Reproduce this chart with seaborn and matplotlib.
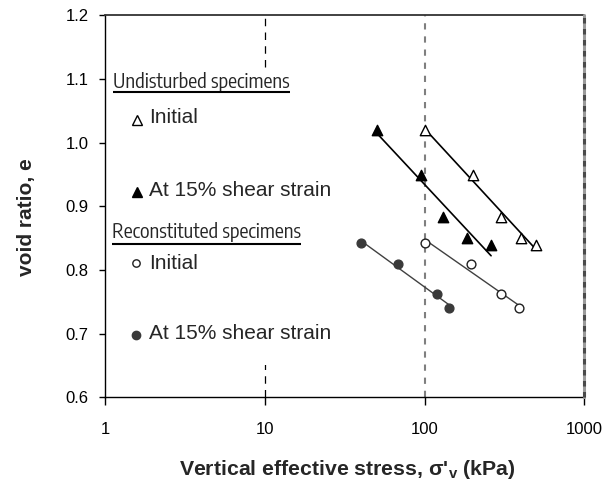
import matplotlib
matplotlib.use("Agg")
import matplotlib.pyplot as plt
import seaborn as sns
import numpy as np
from matplotlib.patches import Rectangle
from matplotlib import font_manager as fm
from matplotlib.textpath import TextPath

# ---- data ----
undist_init_x = [100, 200, 300, 400, 500]
undist_init_e = [1.02, 0.949, 0.884, 0.851, 0.839]
undist_shear_x = [50, 95, 130, 185, 260]
undist_shear_e = [1.02, 0.949, 0.884, 0.851, 0.839]
recon_init_x = [100, 195, 300, 390]
recon_init_e = [0.842, 0.809, 0.762, 0.740]
recon_shear_x = [40, 68, 120, 142]
recon_shear_e = [0.842, 0.809, 0.762, 0.740]

x_ticks = [1, 10, 100, 1000]
x_tick_labels = ["1", "10", "100", "1000"]
y_ticks = [0.6, 0.7, 0.8, 0.9, 1.0, 1.1, 1.2]
y_tick_labels = ["0.6", "0.7", "0.8", "0.9", "1.0", "1.1", "1.2"]

sns.set_style("white")
plt.rcParams["font.family"] = ["Liberation Sans", "DejaVu Sans"]
plt.rcParams["mathtext.fontset"] = "custom"
plt.rcParams["mathtext.rm"] = "Liberation Sans"
plt.rcParams["mathtext.bf"] = "Liberation Sans:bold"

# pick the narrow font whose natural width best matches the reference headings
TARGET_W = 189.0  # px for "Reconstituted specimens" at 15 pt
best = None
for f in fm.fontManager.ttflist:
    if f.style != "normal" or f.weight not in ("normal", "regular", 400):
        continue
    if not (("Condensed" in f.name) or ("Narrow" in f.name)
            or f.stretch not in ("normal", 500)):
        continue
    if not any(k in f.name for k in ("Sans", "Roboto", "Lato", "Inter")):
        continue
    if "Mono" in f.name or "CJK" in f.name:
        continue
    try:
        fp = fm.FontProperties(fname=f.fname, size=15)
        tp = TextPath((0, 0), "Reconstituted specimens", prop=fp)
        w = tp.get_extents().width * 100.0 / 72.0
    except Exception:
        continue
    if best is None or abs(w - TARGET_W) < abs(best[1] - TARGET_W):
        best = (f.fname, w)
if best is not None:
    narrow_fp = fm.FontProperties(fname=best[0])
else:
    narrow_fp = fm.FontProperties(family="Liberation Sans")

fig = plt.figure(figsize=(6.15, 4.83), dpi=100)
ax = fig.add_axes([0.1715, 0.1774, 0.7789, 0.7907])
ax.set_xscale("log")
ax.set_xlim(1, 1000)
ax.set_ylim(0.6, 1.2)

# vertical dashed reference lines
ax.axvline(10, color="black", lw=0.9, ls=(0, (6, 5)), zorder=0.5)
ax.axvline(100, color="#7f7f7f", lw=1.5, ls=(0, (3, 3.3)), zorder=0.5)
ax.axvline(1000, color="#9a9a9a", lw=2.2, zorder=2.6, clip_on=False)
ax.axvline(1000, color="#4a4a4a", lw=2.2, ls=(0, (1.8, 1.8)), zorder=2.7, clip_on=False)

# white box behind legend text
ax.add_patch(Rectangle((0.01, 0.085), 0.48, 0.777, transform=ax.transAxes,
                       facecolor="white", edgecolor="none", zorder=0.8))

# trend lines
sns.regplot(x=undist_init_x, y=undist_init_e, logx=True, ci=None, scatter=False,
            color="black", line_kws=dict(lw=1.2, zorder=2), ax=ax)
sns.regplot(x=undist_shear_x, y=undist_shear_e, logx=True, ci=None, scatter=False,
            color="black", line_kws=dict(lw=1.2, zorder=2), ax=ax)
sns.regplot(x=recon_init_x, y=recon_init_e, logx=True, ci=None, scatter=False,
            color="#404040", line_kws=dict(lw=1.0, zorder=2), ax=ax)
sns.regplot(x=recon_shear_x, y=recon_shear_e, logx=True, ci=None, scatter=False,
            color="#404040", line_kws=dict(lw=1.0, zorder=2), ax=ax)

# markers
sns.scatterplot(x=undist_init_x, y=undist_init_e, marker="^", s=56, color="white",
                edgecolor="black", linewidth=1.0, zorder=3, ax=ax)
sns.scatterplot(x=undist_shear_x, y=undist_shear_e, marker="^", s=56, color="black",
                edgecolor="black", linewidth=1.0, zorder=3, ax=ax)
sns.scatterplot(x=recon_init_x, y=recon_init_e, marker="o", s=40, color="white",
                edgecolor="#202020", linewidth=1.0, zorder=3, ax=ax)
sns.scatterplot(x=recon_shear_x, y=recon_shear_e, marker="o", s=40, color="#3a3a3a",
                edgecolor="#3a3a3a", linewidth=1.0, zorder=3, ax=ax)

# axes styling
ax.set_xticks(x_ticks)
ax.set_xticklabels(x_tick_labels)
ax.xaxis.set_minor_locator(matplotlib.ticker.NullLocator())
ax.set_yticks(y_ticks)
ax.set_yticklabels(y_tick_labels)
ax.tick_params(axis="x", direction="out", length=5.5, width=1, labelsize=12, pad=12.5,
               color="black", labelcolor="black", bottom=True)
ax.tick_params(axis="y", direction="out", length=4, width=1, labelsize=12, pad=8,
               color="black", labelcolor="black", left=True)
for side in ["left", "bottom"]:
    ax.spines[side].set_color("black")
    ax.spines[side].set_linewidth(1.0)
ax.spines["top"].set_color("#333333")
ax.spines["top"].set_linewidth(1.3)
ax.spines["right"].set_visible(False)

ax.set_xlabel(r"Vertical effective stress, σ'$_{\mathbf{v}}$ (kPa)", fontsize=15.3,
              fontweight="bold")
ax.set_ylabel("void ratio, e", fontsize=15, fontweight="bold")
ax.xaxis.set_label_coords(0.504, -0.16)
ax.yaxis.set_label_coords(-0.145, 0.472)


def axc(px, py):
    return ((px - 105.5) / 479.0, (397.3 - py) / 381.9)


# legend-like annotations
headers = [("Undisturbed specimens", 113, 88, 92), ("Reconstituted specimens", 112, 238, 244)]
items = [("Initial", 149, 123, "^", "white", "black", 137, 119.5, 6.5),
         ("At 15% shear strain", 149, 196, "^", "black", "black", 137, 191.5, 6.5),
         ("Initial", 149, 269, "o", "white", "#202020", 136, 263, 5.3),
         ("At 15% shear strain", 149, 339, "o", "#3a3a3a", "#3a3a3a", 136.5, 334.5, 6.0)]

head_texts = []
for label, px, py, uy in headers:
    x, y = axc(px, py)
    fp = narrow_fp.copy()
    fp.set_size(15)
    t = ax.text(x, y, label, transform=ax.transAxes, fontproperties=fp, va="baseline",
                ha="left", zorder=4)
    head_texts.append((t, uy))

# fine-tune heading size so "Reconstituted specimens" spans ~189 px, within limits
fig.canvas.draw()
w = head_texts[1][0].get_window_extent().width
size = float(np.clip(15 * TARGET_W / w, 13.0, 16.0))
for t, _ in head_texts:
    t.set_fontsize(size)

for label, px, py, mk, fc, ec, mx, my, ms in items:
    x, y = axc(px, py)
    ax.text(x, y, label, transform=ax.transAxes, fontsize=15, va="baseline", ha="left",
            zorder=4)
    x2, y2 = axc(mx, my)
    ax.plot([x2], [y2], marker=mk, ms=ms, mfc=fc, mec=ec, mew=1.0, ls="none",
            transform=ax.transAxes, zorder=4, clip_on=False)

fig.canvas.draw()
inv = ax.transAxes.inverted()
for t, uy in head_texts:
    bb = t.get_window_extent()
    x0 = inv.transform((bb.x0, 0))[0]
    x1 = inv.transform((bb.x1, 0))[0]
    yy = axc(0, uy)[1]
    ax.plot([x0, x1], [yy, yy], color="black", lw=1.5, transform=ax.transAxes, zorder=4,
            solid_capstyle="butt")

fig.savefig("out.png", dpi=100)
